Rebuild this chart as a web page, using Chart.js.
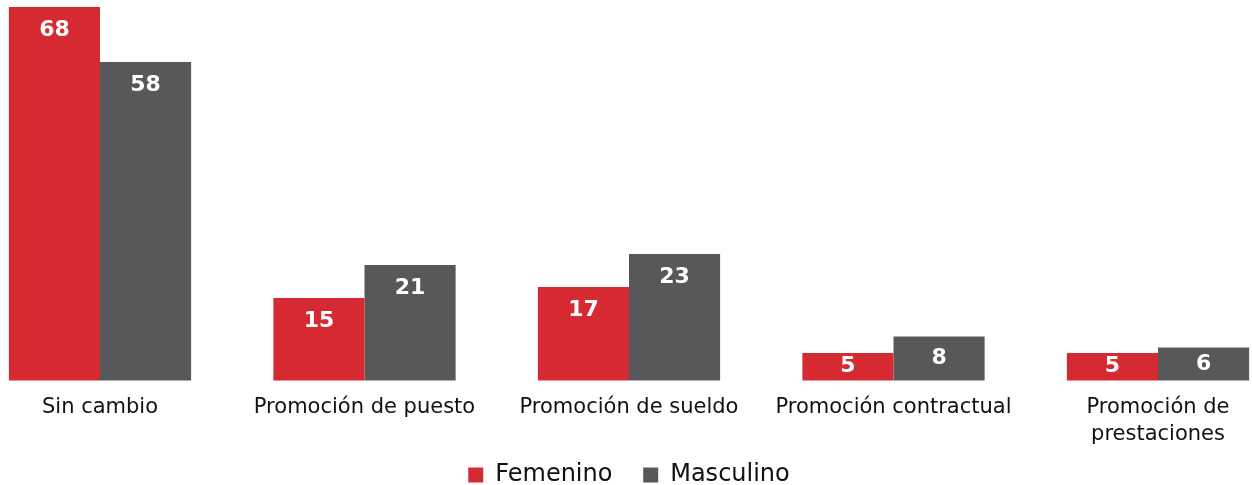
<!DOCTYPE html>
<html lang="es">
<head>
<meta charset="UTF-8">
<title>Cambios por sexo</title>
<style>
  * { margin: 0; padding: 0; box-sizing: border-box; }
  body { background: #fff; width: 1253px; height: 485px; overflow: hidden; }
  #wrap { width: 1253px; height: 485px; }
</style>
</head>
<body>
<div id="wrap"><canvas id="chart"></canvas></div>
<script src="https://cdn.jsdelivr.net/npm/chart.js@4/dist/chart.umd.min.js"></script>
<script>
const categories = ['Sin cambio', 'Promoción de puesto', 'Promoción de sueldo', 'Promoción contractual', ['Promoción de', 'prestaciones']];
const femenino  = [68, 15, 17, 5, 5];
const masculino = [58, 21, 23, 8, 6];

const RED  = '#d52a32';
const GRAY = '#58585a';
const FONT = '"DejaVu Sans", sans-serif';

// values drawn inside the top of each bar
const valueLabels = {
  id: 'valueLabels',
  afterDatasetsDraw(chart) {
    const ctx = chart.ctx;
    ctx.save();
    ctx.fillStyle = '#fff';
    ctx.font = 'bold 22px ' + FONT;
    ctx.textAlign = 'center';
    ctx.textBaseline = 'middle';
    chart.data.datasets.forEach((ds, i) => {
      chart.getDatasetMeta(i).data.forEach((bar, j) => {
        const y = Math.min(bar.y + 23, (bar.y + bar.base) / 2);
        ctx.fillText(ds.data[j], bar.x, y);
      });
    });
    ctx.restore();
  }
};

new Chart(document.getElementById('chart'), {
  type: 'bar',
  data: {
    labels: categories,
    datasets: [
      { label: 'Femenino', data: femenino, backgroundColor: RED, clip: false },
      { label: 'Masculino', data: masculino, backgroundColor: GRAY, clip: false }
    ]
  },
  options: {
    responsive: true,
    maintainAspectRatio: false,
    animation: false,
    categoryPercentage: 0.689,
    barPercentage: 1,
    layout: { padding: { left: 100, right: 95, top: 7, bottom: -12 } },
    plugins: {
      tooltip: { enabled: false },
      legend: {
        position: 'bottom',
        labels: {
          color: '#111',
          font: { family: FONT, size: 24 },
          boxWidth: 15,
          boxHeight: 15,
          padding: 2,
          // extra gap after the first item
          generateLabels(chart) {
            const items = Chart.defaults.plugins.legend.labels.generateLabels(chart);
            items[0].text += '\u2003\u2009';
            return items;
          }
        }
      }
    },
    scales: {
      x: {
        offset: false,
        grid: { display: false, drawTicks: false },
        border: { display: false },
        ticks: {
          color: '#111',
          font: { family: FONT, size: 21, lineHeight: 1.3 },
          padding: 13,
          maxRotation: 0,
          autoSkip: false
        }
      },
      y: {
        display: false,
        min: 0,
        max: 68
      }
    }
  },
  plugins: [valueLabels]
});
</script>
</body>
</html>
